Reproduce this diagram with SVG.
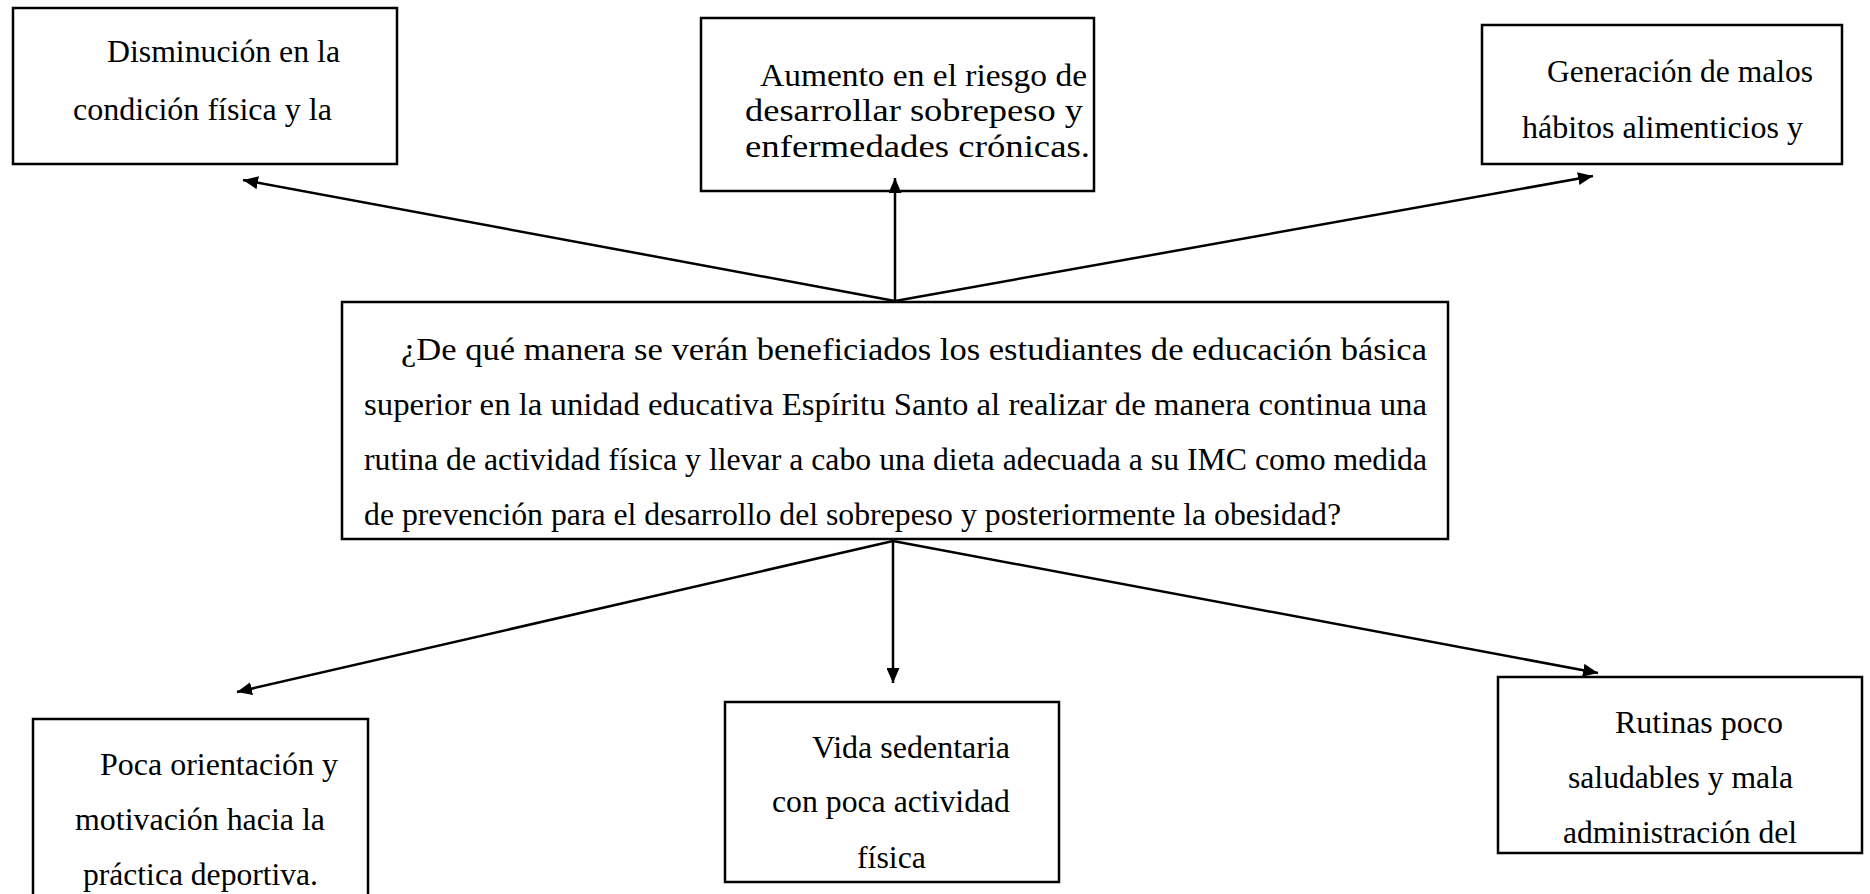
<svg xmlns="http://www.w3.org/2000/svg" width="1870" height="894" viewBox="0 0 1870 894">
<style>
.box{fill:#fff;stroke:#000;stroke-width:2.5}
text{font-family:'Liberation Serif','Times New Roman','DejaVu Serif',serif;font-size:31px;fill:#000}
.c{stroke:#000;stroke-width:2.5;fill:none;marker-end:url(#ah)}
</style>
<defs>
<marker id="ah" markerUnits="userSpaceOnUse" markerWidth="16" markerHeight="13" refX="15" refY="6.5" orient="auto">
<path d="M0,0 L15,6.5 L0,13 z" fill="#000"/>
</marker>
</defs>
<rect width="1870" height="894" fill="#fff"/>
<g id="center">
<rect class="box" x="342" y="302" width="1106" height="237"/>
<text x="401" y="360" textLength="1026" lengthAdjust="spacingAndGlyphs">¿De qué manera se verán beneficiados los estudiantes de educación básica</text>
<text x="364" y="415" textLength="1063" lengthAdjust="spacingAndGlyphs">superior en la unidad educativa Espíritu Santo al realizar de manera continua una</text>
<text x="364" y="470" textLength="1063" lengthAdjust="spacingAndGlyphs">rutina de actividad física y llevar a cabo una dieta adecuada a su IMC como medida</text>
<text x="364" y="525" textLength="977" lengthAdjust="spacingAndGlyphs">de prevención para el desarrollo del sobrepeso y posteriormente la obesidad?</text>
</g>
<g id="top-left">
<rect class="box" x="13" y="8" width="384" height="156"/>
<text x="107" y="62" textLength="233" lengthAdjust="spacingAndGlyphs">Disminución en la</text>
<text x="73" y="120" textLength="259" lengthAdjust="spacingAndGlyphs">condición física y la</text>
</g>
<g id="top-middle">
<rect class="box" x="701" y="18" width="393" height="173"/>
<text x="760" y="86" textLength="327" lengthAdjust="spacingAndGlyphs">Aumento en el riesgo de</text>
<text x="745" y="121" textLength="338" lengthAdjust="spacingAndGlyphs">desarrollar sobrepeso y</text>
<text x="745" y="157" textLength="345" lengthAdjust="spacingAndGlyphs">enfermedades crónicas.</text>
</g>
<g id="top-right">
<rect class="box" x="1482" y="25" width="360" height="139"/>
<text x="1547" y="82" textLength="266" lengthAdjust="spacingAndGlyphs">Generación de malos</text>
<text x="1522" y="138" textLength="281" lengthAdjust="spacingAndGlyphs">hábitos alimenticios y</text>
</g>
<g id="bottom-left">
<rect class="box" x="33" y="719" width="335" height="190"/>
<text x="100" y="775" textLength="238" lengthAdjust="spacingAndGlyphs">Poca orientación y</text>
<text x="75" y="830" textLength="250" lengthAdjust="spacingAndGlyphs">motivación hacia la</text>
<text x="83" y="885" textLength="235" lengthAdjust="spacingAndGlyphs">práctica deportiva.</text>
</g>
<g id="bottom-middle">
<rect class="box" x="725" y="702" width="334" height="180"/>
<text x="812" y="758" textLength="198" lengthAdjust="spacingAndGlyphs">Vida sedentaria</text>
<text x="772" y="812" textLength="238" lengthAdjust="spacingAndGlyphs">con poca actividad</text>
<text x="857" y="868" textLength="69" lengthAdjust="spacingAndGlyphs">física</text>
</g>
<g id="bottom-right">
<rect class="box" x="1498" y="677" width="364" height="176"/>
<text x="1615" y="733" textLength="168" lengthAdjust="spacingAndGlyphs">Rutinas poco</text>
<text x="1568" y="788" textLength="225" lengthAdjust="spacingAndGlyphs">saludables y mala</text>
<text x="1563" y="843" textLength="234" lengthAdjust="spacingAndGlyphs">administración del</text>
</g>
<g id="connectors">
<line class="c" x1="895" y1="301" x2="243" y2="180"/>
<line class="c" x1="895" y1="301" x2="895" y2="178"/>
<line class="c" x1="895" y1="301" x2="1593" y2="176"/>
<line class="c" x1="893" y1="541" x2="237" y2="692"/>
<line class="c" x1="893" y1="541" x2="893" y2="683"/>
<line class="c" x1="893" y1="541" x2="1598" y2="673"/>
</g>
</svg>
